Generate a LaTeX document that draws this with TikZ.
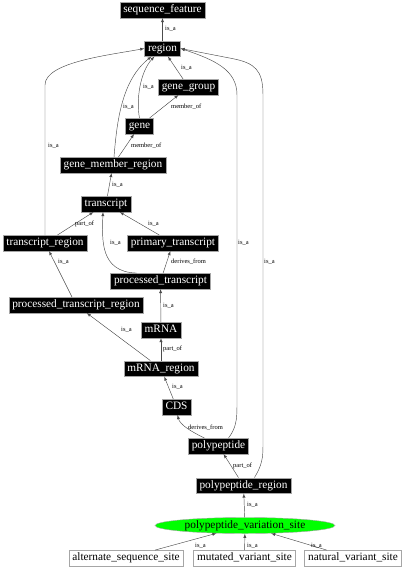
\documentclass[tikz,border=0pt]{standalone}
\usepackage{fontspec}
\setmainfont{Liberation Serif}
\usetikzlibrary{shapes.geometric}
\tikzset{
  term/.style={draw=gray!70, fill=black, text=white, font=\fontsize{11.3}{12}\selectfont,
    inner xsep=3.5pt, inner ysep=2.5pt, text height=8pt, text depth=2.5pt},
  leaf/.style={term, fill=white, text=black},
  edge/.style={-latex, draw=gray!60!black, line width=0.45pt},
  lbl/.style={anchor=west, font=\fontsize{6.5}{7}\selectfont, inner sep=0pt, text=black}
}
\begin{document}
\begin{tikzpicture}[x=1pt,y=-1pt]
            \useasboundingbox (0,0) rectangle (404,576);
            % terms
            \node[term] (sf) at (162.5,10) {sequence\_feature};
            \node[term] (region) at (162.5,48.5) {region};
            \node[term] (genegroup) at (188.5,87) {gene\_group};
            \node[term] (gene) at (139.5,126) {gene};
            \node[term] (gmr) at (113,165) {gene\_member\_region};
            \node[term] (transcript) at (106,204) {transcript};
            \node[term] (tregion) at (45,243) {transcript\_region};
            \node[term] (primary) at (173,243) {primary\_transcript};
            \node[term] (processed) at (160.5,281) {processed\_transcript};
            \node[term] (ptregion) at (76,305) {processed\_transcript\_region};
            \node[term] (mrna) at (161,330) {mRNA};
            \node[term] (mregion) at (161,368.5) {mRNA\_region};
            \node[term] (cds) at (176.5,407) {CDS};
            \node[term] (polypeptide) at (218.5,446) {polypeptide};
            \node[term] (ppregion) at (243.5,485.5) {polypeptide\_region};
            \node[ellipse, draw=gray!70, fill=green, minimum width=180pt, minimum height=16pt, inner sep=0pt,
              font=\fontsize{11.3}{12}\selectfont] (pvs) at (245,525.5) {polypeptide\_variation\_site};
            \node[leaf] (alt) at (126,558) {alternate\_sequence\_site};
            \node[leaf] (mut) at (244.5,558) {mutated\_variant\_site};
            \node[leaf] (nat) at (353,558) {natural\_variant\_site};
            % relations
            \draw[edge] (region) -- (sf) node[lbl] at (165,29) {is\_a};
            \draw[edge] (genegroup) -- (region) node[lbl] at (181,68) {is\_a};
            \draw[edge] (gene.north) .. controls (136,100) and (140,72) .. ([xshift=-8]region.south) node[lbl] at (143,87) {is\_a};
            \draw[edge] (gene) -- (genegroup) node[lbl] at (171,107) {member\_of};
            \draw[edge] ([xshift=1]gmr.north) .. controls (117,120) and (122,80) .. ([xshift=-11]region.south) node[lbl] at (123,107) {is\_a};
            \draw[edge] (gmr) -- (gene) node[lbl] at (131,146) {member\_of};
            \draw[edge] (transcript) -- (gmr) node[lbl] at (112,185) {is\_a};
            \draw[edge] (tregion.north) -- (45,85) .. controls (45,62) and (110,55) .. (region.west) node[lbl] at (48,146) {is\_a};
            \draw[edge] (tregion) -- (transcript) node[lbl] at (75,224) {part\_of};
            \draw[edge] (primary) -- (transcript) node[lbl] at (148,224) {is\_a};
            \draw[edge] ([xshift=-24]processed.north) .. controls (100,272) and (102,240) .. ([xshift=-3]transcript.south) node[lbl] at (110,243) {is\_a};
            \draw[edge] (processed) -- (primary) node[lbl] at (171,262) {derives\_from};
            \draw[edge] (ptregion) -- (tregion) node[lbl] at (58,262) {is\_a};
            \draw[edge] (mrna) -- (processed) node[lbl] at (163,306) {is\_a};
            \draw[edge] (mregion) -- (mrna) node[lbl] at (163,349) {part\_of};
            \draw[edge] (mregion) -- (ptregion) node[lbl] at (121,330) {is\_a};
            \draw[edge] (cds) -- (mregion) node[lbl] at (172,387) {is\_a};
            \draw[edge] ([xshift=-14]polypeptide.north) .. controls (192,432) and (180,425) .. ([xshift=1]cds.south) node[lbl] at (188,428) {derives\_from};
            \draw[edge] ([xshift=10]polypeptide.north) .. controls (236,428) and (237,420) .. (237,405) -- (237,95)
              .. controls (237,70) and (215,60) .. (region.east) node[lbl] at (238,243) {is\_a};
            \draw[edge] ([xshift=11]ppregion.north) .. controls (262,465) and (263,458) .. (263,445) -- (263,95)
              .. controls (263,70) and (255,63) .. (232,58.5) -- (region.east) node[lbl] at (264,262) {is\_a};
            \draw[edge] (ppregion) -- (polypeptide) node[lbl] at (233,466) {part\_of};
            \draw[edge] (pvs) -- (ppregion) node[lbl] at (247,505) {is\_a};
            \draw[edge] (alt) -- (pvs) node[lbl] at (195,546) {is\_a};
            \draw[edge] (mut) -- (pvs) node[lbl] at (247,546) {is\_a};
            \draw[edge] (nat) -- (pvs) node[lbl] at (311,546) {is\_a};
        \end{tikzpicture}
\end{document}
